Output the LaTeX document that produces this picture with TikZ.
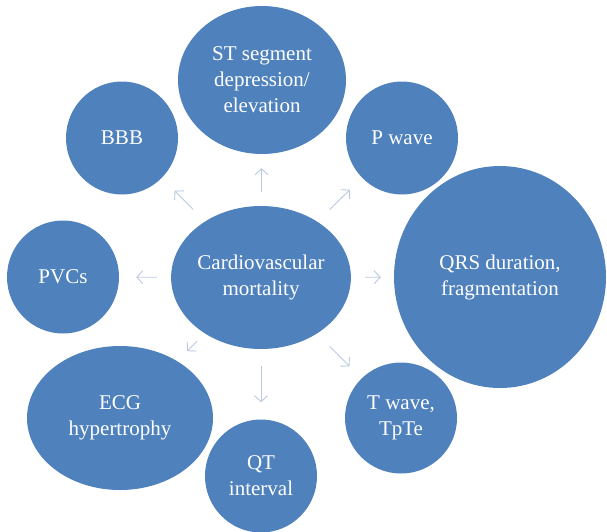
\documentclass[tikz,border=0pt]{standalone}
\usepackage{fontspec}
\setmainfont{Liberation Serif}
\usetikzlibrary{arrows.meta,shapes.geometric}
\definecolor{ecgblue}{RGB}{79,129,189}
\definecolor{arrowgrey}{RGB}{185,201,224}

\begin{document}
\begin{tikzpicture}[
    x=1pt,y=-1pt,
    font=\fontsize{21}{26}\selectfont,
    blob/.style={ellipse,fill=ecgblue,text=white,align=center,inner sep=0pt},
    small/.style={blob,minimum width=112pt,minimum height=113pt},
    ar/.style={-{Straight Barb[length=6pt,width=13pt]},arrowgrey,line width=0.9pt}
  ]
  \clip (0,0) rectangle (607,531);

  % central outcome
  \node[blob,minimum width=172pt,minimum height=143pt] (cvm) at (261,277.5) {Cardiovascular\\mortality};

  % ECG markers around it
  \node[blob,minimum width=168pt,minimum height=148pt] (st) at (262,80) {ST segment\\depression/\\elevation};
  \node[small] (bbb) at (122,138) {BBB};
  \node[small] (pw) at (402,138) {P wave};
  \node[small] (pvc) at (63,277) {PVCs};
  \node[blob,minimum width=212pt,minimum height=222pt] (qrs) at (500,277) {QRS duration,\\fragmentation};
  \node[blob,minimum width=186pt,minimum height=144pt] (ecg) at (120,418) {ECG\\hypertrophy};
  \node[small] (qt) at (261,476) {QT\\interval};
  \node[small,minimum height=111pt] (tw) at (401,418) {T wave,\\TpTe};

  \foreach \tgt/\sa/\sb in {st/14/14,bbb/17/18,pw/17/17,pvc/14/17,
                            qrs/14/13,ecg/11/14,qt/17/17,tw/18/17}
    \draw[ar,shorten <=\sa pt,shorten >=\sb pt] (cvm) -- (\tgt);
\end{tikzpicture}
\end{document}
